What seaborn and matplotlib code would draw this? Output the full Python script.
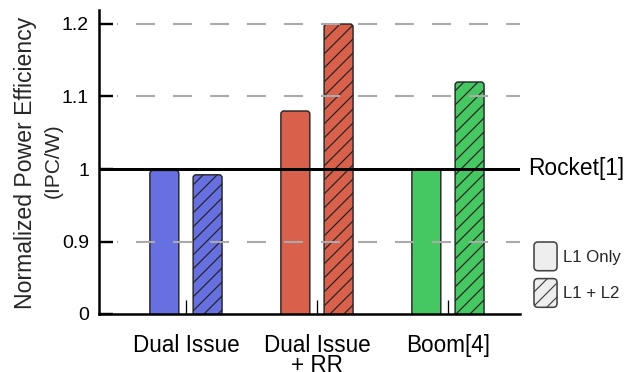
import numpy as np
import pandas as pd
import seaborn as sns
import matplotlib
matplotlib.use("Agg")
import matplotlib.pyplot as plt
from matplotlib.patches import FancyBboxPatch, BoxStyle, Patch
from matplotlib.legend_handler import HandlerPatch

# ---------------- data ----------------
categories = ["Dual Issue", "Dual Issue\n+ RR", "Boom[4]"]
configs = ["L1 Only", "L1 + L2"]
l1_only = [0.998, 1.08, 1.0]
l1_l2 = [0.992, 1.2, 1.12]
bar_colors = ["#6670E0", "#D9604A", "#45C862"]
ytick_values = [0.8, 0.9, 1.0, 1.1, 1.2]
ytick_labels = ["0", "0.9", "1", "1.1", "1.2"]
grid_values = [0.9, 1.1, 1.2]
baseline_value = 1.0
baseline_label = "Rocket[1]"

df = pd.DataFrame({
    "cat": categories * 2,
    "config": [configs[0]] * 3 + [configs[1]] * 3,
    "val": l1_only + l1_l2,
})

DPI = 84
W, H = 638, 372


def pt(px):
    return px * 72.0 / DPI


sns.set_theme(style="white")
plt.rcParams["font.family"] = ["Liberation Sans", "DejaVu Sans"]
plt.rcParams["hatch.linewidth"] = pt(1.2)
plt.rcParams["lines.scale_dashes"] = False

fig = plt.figure(figsize=(W / DPI, H / DPI), dpi=DPI)
ax = fig.add_axes([99 / W, 1 - 314 / H, 421 / W, 304 / H])

sns.barplot(data=df, x="cat", y="val", hue="config", order=categories,
            hue_order=configs, width=0.66, gap=0.33, ax=ax, legend=False,
            palette=["#888888", "#888888"], edgecolor="#222222", linewidth=pt(1.4),
            zorder=2)

ax.set_xlim(-0.664, 2.55)
ax.set_ylim(0.8, 1.2 + 14 / 725)

# replace bars with rounded ones
px_x = 1 / 131.0
px_y = 0.1 / 72.5
asp = px_y / px_x
for ci, cont in enumerate(ax.containers):
    for bi, rect in enumerate(cont):
        x, y = rect.get_x(), rect.get_y()
        w, h = rect.get_width(), rect.get_height()
        rect.set_visible(False)
        p = FancyBboxPatch((x, y), w, h,
                           boxstyle=BoxStyle.Round(pad=0, rounding_size=3 * px_x),
                           mutation_aspect=asp,
                           facecolor=bar_colors[bi], edgecolor="#222222",
                           linewidth=pt(1.4), hatch="//" if ci == 1 else None,
                           zorder=2)
        ax.add_patch(p)

# grid lines (above bars)
x0 = (117 - 99) / 421
on = pt(19)
off = pt(18)
for g in grid_values:
    ax.axhline(g, xmin=x0, xmax=1, color="#AAAAAA", lw=pt(2.1),
               linestyle=(off, (on, off)), zorder=3)

# baseline
ax.axhline(baseline_value, color="black", lw=pt(3.0), zorder=4)
ax.text(1.0 + 8 / 421, baseline_value, baseline_label, transform=ax.get_yaxis_transform(),
        ha="left", va="center", fontsize=pt(22.7), color="black")

# axes styling
for s in ["top", "right"]:
    ax.spines[s].set_visible(False)
for s in ["left", "bottom"]:
    ax.spines[s].set_linewidth(pt(2.5))
    ax.spines[s].set_color("black")
    ax.spines[s].set_zorder(5)

ax.set_yticks(ytick_values)
ax.set_yticklabels(ytick_labels)
ax.tick_params(axis="y", direction="in", length=pt(14), width=pt(2.4), colors="black",
               labelsize=pt(19.5), pad=pt(10), left=True)
ax.tick_params(axis="x", direction="in", length=pt(14), width=pt(1.3), colors="black",
               labelsize=pt(22.5), pad=pt(20), bottom=True)
for lab in ax.get_xticklabels():
    lab.set_linespacing(0.81)
ax.set_xlabel("")
ax.set_ylabel("")

fig.text(26 / W, 1 - 163 / H, "Normalized Power Efficiency", rotation=90,
         ha="center", va="center", fontsize=pt(23))
fig.text(53 / W, 1 - 161 / H, "(IPC/W)", rotation=90,
         ha="center", va="center", fontsize=pt(21))


# legend with rounded handles
def rounded_patch(legend, orig_handle, xdescent, ydescent, width, height, fontsize):
    return FancyBboxPatch((-xdescent, -ydescent), width, height,
                          boxstyle=BoxStyle.Round(pad=0, rounding_size=pt(4)))


handles = [Patch(facecolor="#EEEEEE", edgecolor="#444444", linewidth=pt(1.6),
                 label=configs[0]),
           Patch(facecolor="#EEEEEE", edgecolor="#444444", linewidth=pt(1.6), hatch="//",
                 label=configs[1])]
leg = fig.legend(handles=handles, loc="upper left",
                 bbox_to_anchor=(534 / W, 1 - 242 / H), frameon=False,
                 fontsize=pt(16.7), handlelength=1.38, handleheight=2.27,
                 handletextpad=0.35, labelspacing=0.47, borderpad=0,
                 borderaxespad=0,
                 handler_map={Patch: HandlerPatch(patch_func=rounded_patch)})

fig.savefig("out.png", dpi=DPI)
